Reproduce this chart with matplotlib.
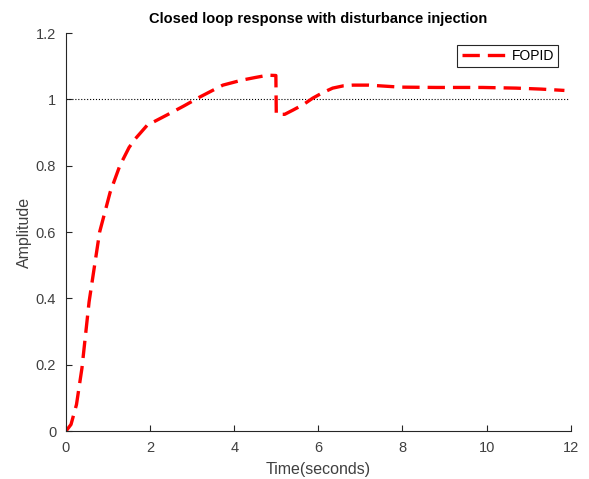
import numpy as np
import matplotlib
matplotlib.use("Agg")
import matplotlib.pyplot as plt

plt.rcParams['font.family'] = ['Liberation Sans', 'DejaVu Sans']

# closed loop output with a load disturbance injected at t = 5 s
t = [0, 0.12, 0.25, 0.38, 0.55, 0.8, 1.05, 1.28, 1.5, 1.64, 1.93, 2.4, 2.8, 3.18,
     3.5, 3.73, 4.18, 4.5, 4.8, 4.99, 5.0, 5.2, 5.4, 5.65, 5.87, 6.1, 6.34, 6.6,
     6.82, 7.2, 7.94, 8.8, 9.9, 10.7, 11.3, 11.85]
y = [0, 0.02, 0.08, 0.19, 0.39, 0.6, 0.72, 0.8, 0.855, 0.88, 0.922, 0.953, 0.98, 1.007,
     1.028, 1.043, 1.058, 1.066, 1.073, 1.072, 0.955, 0.955, 0.968, 0.985, 1.004, 1.02,
     1.034, 1.041, 1.043, 1.043, 1.037, 1.036, 1.036, 1.034, 1.031, 1.027]

ref_t = [0, 11.95]
ref_y = [1, 1]

fig = plt.figure(figsize=(5.89, 4.79), dpi=100)
ax = fig.add_axes([0.112, 0.1, 0.857, 0.831])

ax.plot(ref_t, ref_y, ':', color='black', linewidth=0.8)
line, = ax.plot(t, y, '--', color='red', linewidth=2.4, label='FOPID')
line.set_dashes((5.2, 2.4))

ax.set_xlim(0, 12)
ax.set_ylim(0, 1.2)
ax.set_xticks(np.arange(0, 13, 2))
ax.set_yticks([0, 0.2, 0.4, 0.6, 0.8, 1.0, 1.2])
ax.set_yticklabels(['0', '0.2', '0.4', '0.6', '0.8', '1', '1.2'])

for s in ['top', 'right']:
    ax.spines[s].set_visible(False)
for s in ['left', 'bottom']:
    ax.spines[s].set_color('#262626')
    ax.spines[s].set_linewidth(0.8)
ax.tick_params(direction='in', length=4, width=0.8, color='#262626',
               labelcolor='#404040', labelsize=10.5, pad=7)

ax.set_xlabel('Time(seconds)', fontsize=11.5, color='#404040', labelpad=5)
ax.set_ylabel('Amplitude', fontsize=11.5, color='#404040', labelpad=3)
ax.set_title('Closed loop response with disturbance injection', fontsize=10.5,
             fontweight='bold', pad=7)

leg = ax.legend(loc='upper right', bbox_to_anchor=(0.975, 0.97), fontsize=10,
                fancybox=False, framealpha=1, borderpad=0.3, handlelength=3.4,
                handletextpad=0.2, borderaxespad=0)
leg.get_frame().set_edgecolor('#262626')
leg.get_frame().set_linewidth(0.8)

fig.savefig('out.png', dpi=100)
